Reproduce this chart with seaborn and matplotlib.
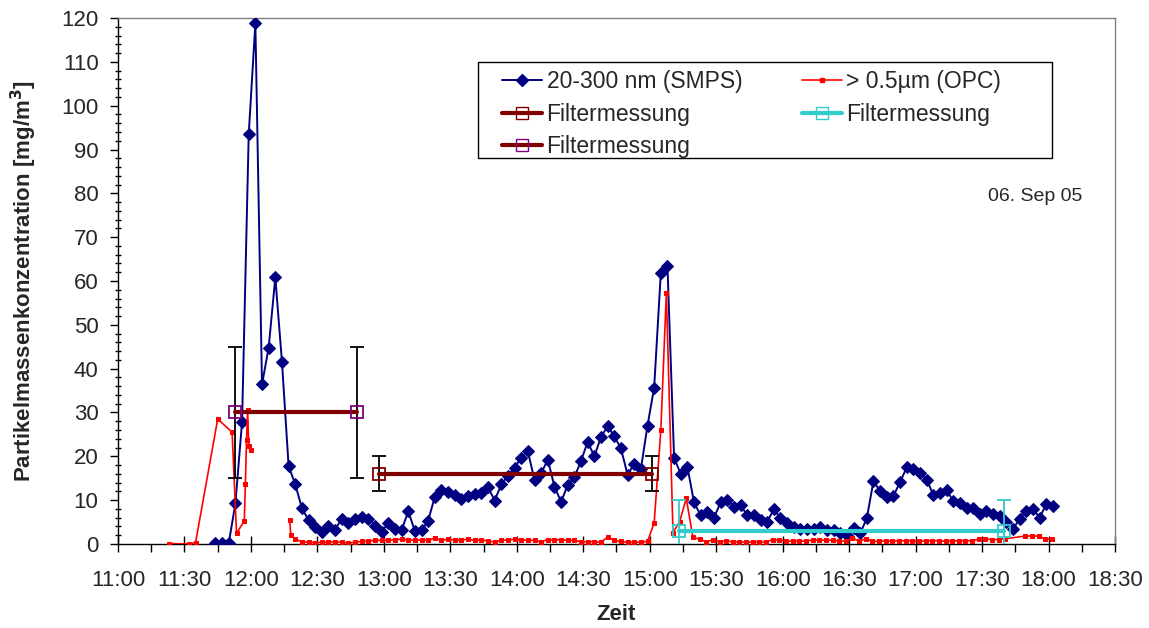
import numpy as np
import pandas as pd
import matplotlib
matplotlib.use("Agg")
import matplotlib.pyplot as plt
import matplotlib.dates as mdates
from matplotlib.lines import Line2D
from matplotlib.patches import Rectangle
from matplotlib.ticker import MultipleLocator
import seaborn as sns

DAY = "2005-09-06"

# --- SMPS, 20-300 nm -------------------------------------------------------
smps_times = [
    "11:44", "11:47", "11:50", "11:53", "11:56", "11:59",
    "12:02", "12:05", "12:08", "12:11", "12:14", "12:17", "12:20", "12:23", "12:26", "12:29",
    "12:32", "12:35", "12:38", "12:41", "12:44", "12:47", "12:50", "12:53", "12:56", "12:59",
    "13:02", "13:05", "13:08", "13:11", "13:14", "13:17", "13:20", "13:23", "13:26", "13:29",
    "13:32", "13:35", "13:38", "13:41", "13:44", "13:47", "13:50", "13:53", "13:56", "13:59",
    "14:02", "14:05", "14:08", "14:11", "14:14", "14:17", "14:20", "14:23", "14:26", "14:29",
    "14:32", "14:35", "14:38", "14:41", "14:44", "14:47", "14:50", "14:53", "14:56", "14:59",
    "15:02", "15:05", "15:08", "15:11", "15:14", "15:17", "15:20", "15:23", "15:26", "15:29",
    "15:32", "15:35", "15:38", "15:41", "15:44", "15:47", "15:50", "15:53", "15:56", "15:59",
    "16:02", "16:05", "16:08", "16:11", "16:14", "16:17", "16:20", "16:23", "16:26", "16:29",
    "16:32", "16:35", "16:38", "16:41", "16:44", "16:47", "16:50", "16:53", "16:56", "16:59",
    "17:02", "17:05", "17:08", "17:11", "17:14", "17:17", "17:20", "17:23", "17:26", "17:29",
    "17:32", "17:35", "17:38", "17:41", "17:44", "17:47", "17:50", "17:53", "17:56", "17:59",
    "18:02",
]
smps_values = [
    0.2, 0.2, 0.2, 9.3, 27.9, 93.5,
    118.8, 36.4, 44.8, 60.8, 41.6, 17.8, 13.6, 8.2, 5.4, 3.9,
    2.8, 4.1, 3.3, 5.8, 4.8, 5.6, 6.2, 5.8, 4.2, 2.8,
    4.7, 3.4, 3.1, 7.5, 2.9, 3.1, 5.3, 10.8, 12.4, 11.8,
    11.1, 10.3, 10.9, 11.5, 11.6, 13.0, 9.9, 13.6, 15.6, 17.4,
    19.7, 21.1, 14.6, 16.2, 19.2, 13.1, 9.6, 13.5, 15.2, 19.0,
    23.3, 20.0, 24.4, 26.9, 24.6, 21.8, 15.8, 18.3, 17.1, 27.0,
    35.7, 61.8, 63.4, 19.6, 16.0, 17.6, 9.5, 6.5, 7.2, 6.0,
    9.5, 10.1, 8.5, 8.9, 6.5, 6.6, 5.5, 5.0, 8.0, 5.9,
    4.7, 3.8, 3.4, 3.4, 3.4, 3.8, 3.1, 3.2, 2.4, 2.1,
    3.6, 2.4, 5.9, 14.4, 12.0, 10.8, 11.0, 14.1, 17.5, 17.0,
    16.2, 14.7, 11.2, 11.6, 12.4, 9.7, 9.3, 8.3, 8.2, 6.9,
    7.6, 6.9, 6.3, 5.1, 3.4, 5.8, 7.6, 8.0, 6.0, 9.1,
    8.7,
]

# --- OPC, > 0.5 um (two recording runs, no data in between) ---------------
opc_times_run1 = [
    "11:23", "11:32", "11:35", "11:45", "11:51:30", "11:53:30",
    "11:57", "11:57:30", "11:58", "11:58:30", "11:59", "12:00",
]
opc_values_run1 = [0.1, 0.0, 0.3, 28.5, 25.5, 2.4, 5.3, 13.7, 23.7, 30.6, 22.4, 21.4]

opc_times_run2 = [
    "12:17:30", "12:18",
    "12:20", "12:23", "12:26", "12:29", "12:32", "12:35", "12:38", "12:41", "12:44", "12:47",
    "12:50", "12:53", "12:56", "12:59",
    "13:02", "13:05", "13:08", "13:11", "13:14", "13:17", "13:20", "13:23", "13:26", "13:29",
    "13:32", "13:35", "13:38", "13:41", "13:44", "13:47", "13:50", "13:53", "13:56", "13:59",
    "14:02", "14:05", "14:08", "14:11", "14:14", "14:17", "14:20", "14:23", "14:26", "14:29",
    "14:32", "14:35", "14:38", "14:41", "14:44", "14:47", "14:50", "14:53", "14:56", "14:59",
    "15:02", "15:05", "15:07:30", "15:10:30", "15:13:30", "15:16:30",
    "15:19:30", "15:22:30", "15:25:30", "15:28:30", "15:31:30", "15:34:30", "15:37:30",
    "15:40:30", "15:43:30", "15:46:30", "15:49:30", "15:52:30", "15:55:30", "15:58:30",
    "16:01:30", "16:04:30", "16:07:30", "16:10:30", "16:13:30", "16:16:30", "16:19:30",
    "16:22:30", "16:25:30", "16:28:30", "16:31:30", "16:34:30", "16:37:30", "16:40:30",
    "16:43:30", "16:46:30", "16:49:30", "16:52:30", "16:55:30", "16:58:30",
    "17:01:30", "17:04:30", "17:07:30", "17:10:30", "17:13:30", "17:16:30", "17:19:30",
    "17:22:30", "17:25:30", "17:28:30", "17:31:30", "17:34:30", "17:37:30", "17:40:30",
    "17:49:30", "17:52:30", "17:55:30", "17:58:30", "18:01:30",
]
opc_values_run2 = [
    5.4, 2.1,
    1.1, 0.5, 0.4, 0.3, 0.4, 0.4, 0.5, 0.4, 0.2, 0.4,
    0.6, 0.6, 0.9, 0.8,
    0.8, 1.0, 1.1, 0.9, 0.9, 0.9, 0.9, 1.3, 0.8, 1.1,
    0.9, 0.9, 1.1, 0.8, 1.0, 0.6, 0.5, 0.8, 0.9, 1.1,
    0.9, 0.9, 0.8, 0.5, 1.0, 0.9, 1.0, 0.8, 0.8, 0.5,
    0.5, 0.5, 0.4, 1.6, 0.8, 0.6, 0.4, 0.4, 0.4, 0.6,
    4.8, 25.9, 57.3, 2.6, 5.1, 10.4,
    1.5, 1.1, 0.5, 0.9, 0.5, 0.7, 0.5,
    0.45, 0.45, 0.45, 0.45, 0.45, 1.0, 0.85,
    0.7, 0.6, 0.6, 0.7, 0.85, 0.9, 0.85,
    0.85, 0.7, 0.6, 1.4, 0.6, 1.2, 0.6,
    0.6, 0.7, 0.6, 0.75, 0.7, 0.75,
    0.6, 0.7, 0.7, 0.75, 0.6, 0.7, 0.7,
    0.7, 0.75, 1.1, 1.15, 1.0, 1.0, 1.2,
    1.8, 1.8, 1.8, 1.1, 1.2,
]

# --- Filter samples (mean over sampling interval, with uncertainty) -------
filter_a_times = ["12:58", "15:01"]
filter_a_values = [16, 16]
filter_a_err = [4, 4]

filter_b_times = ["15:13", "17:40"]
filter_b_values = [3, 3]
filter_b_err = [7, 7]

filter_c_times = ["11:53", "12:48"]
filter_c_values = [30, 30]
filter_c_err = [15, 15]

label_smps = "20-300 nm (SMPS)"
label_opc = "> 0.5µm (OPC)"
label_filter = "Filtermessung"
date_note = "06. Sep 05"


def stamps(times):
    return pd.to_datetime([f"{DAY} {t}" for t in times], format="mixed")


smps = pd.DataFrame({"Zeit": stamps(smps_times), "Wert": smps_values})
opc = pd.concat([
    pd.DataFrame({"Zeit": stamps(opc_times_run1), "Wert": opc_values_run1, "Lauf": 1}),
    pd.DataFrame({"Zeit": stamps(opc_times_run2), "Wert": opc_values_run2, "Lauf": 2}),
], ignore_index=True)

sns.set_style("white")
plt.rcParams["font.family"] = ["Liberation Sans", "DejaVu Sans"]

NAVY = "#000080"
RED = "#FF0000"
MAROON = "#800000"
TEAL = "#33CCCC"
PURPLE = "#800080"
FS = 16

fig = plt.figure(figsize=(11.49, 6.28), dpi=100)
ax = fig.add_axes([0.1027, 0.1338, 0.8677, 0.8375])

sns.lineplot(data=smps, x="Zeit", y="Wert", ax=ax, estimator=None, sort=False,
             color=NAVY, linewidth=1.4, marker="D", markersize=6,
             markerfacecolor=NAVY, markeredgecolor=NAVY, zorder=3)
sns.lineplot(data=opc, x="Zeit", y="Wert", units="Lauf", ax=ax, estimator=None, sort=False,
             color=RED, linewidth=1.2, marker="s", markersize=3.2,
             markerfacecolor=RED, markeredgecolor=RED, zorder=4)


def filter_series(times, values, err, line_color, marker_color, bar_color):
    t = stamps(times)
    ax.errorbar(t, values, yerr=err, fmt="none", ecolor=bar_color,
                elinewidth=1.3, capsize=5, capthick=1.3, zorder=5)
    df = pd.DataFrame({"Zeit": t, "Wert": values})
    sns.lineplot(data=df, x="Zeit", y="Wert", ax=ax, estimator=None, sort=False,
                 color=line_color, linewidth=3, marker="s", markersize=8,
                 markerfacecolor="none", markeredgecolor=marker_color,
                 markeredgewidth=1.3, zorder=6)


filter_series(filter_a_times, filter_a_values, filter_a_err, MAROON, MAROON, "black")
filter_series(filter_b_times, filter_b_values, filter_b_err, TEAL, TEAL, TEAL)
filter_series(filter_c_times, filter_c_values, filter_c_err, MAROON, PURPLE, "black")

# axes
ax.set_xlim(pd.Timestamp(f"{DAY} 11:00"), pd.Timestamp(f"{DAY} 18:30"))
ax.set_ylim(0, 120)
ax.xaxis.set_major_locator(mdates.MinuteLocator(byminute=[0, 30]))
ax.xaxis.set_minor_locator(mdates.MinuteLocator(byminute=[15, 45]))
ax.xaxis.set_major_formatter(mdates.DateFormatter("%H:%M"))
ax.yaxis.set_major_locator(MultipleLocator(10))
ax.yaxis.set_minor_locator(MultipleLocator(2))

ax.tick_params(axis="x", which="major", direction="inout", length=12, width=1,
               color="black", labelsize=FS, pad=13)
ax.tick_params(axis="x", which="minor", direction="out", length=6, width=1,
               color="black")
ax.tick_params(axis="y", which="major", direction="out", length=6, width=1,
               color="black", labelsize=FS, pad=8)
ax.tick_params(axis="y", which="minor", direction="inout", length=5, width=1,
               color="black")
ax.tick_params(bottom=True, left=True, which="both")

for side in ("left", "bottom"):
    ax.spines[side].set_color("black")
    ax.spines[side].set_linewidth(1.0)
for side in ("top", "right"):
    ax.spines[side].set_color("#808080")
    ax.spines[side].set_linewidth(1.0)

ax.set_xlabel("Zeit", fontsize=FS, fontweight="bold", labelpad=9)
ax.set_ylabel("Partikelmassenkonzentration [mg/m$^\\mathbf{3}$]", fontsize=FS,
              fontweight="bold", labelpad=16)

ax.text(0.920, 0.66, date_note, transform=ax.transAxes, ha="center", va="center",
        fontsize=14)

# legend: entries laid out frameless, box drawn around them
def handle(color, marker, mfc, mec, lw, ms):
    return Line2D([], [], color=color, linewidth=lw, marker=marker, markersize=ms,
                  markerfacecolor=mfc, markeredgecolor=mec)


handles = [
    handle(NAVY, "D", NAVY, NAVY, 1.4, 6),
    handle(MAROON, "s", "none", MAROON, 3, 8),
    handle(MAROON, "s", "none", PURPLE, 3, 8),
    handle(RED, "s", RED, RED, 1.2, 3.2),
    handle(TEAL, "s", "none", TEAL, 3, 8),
]
labels = [label_smps, label_filter, label_filter, label_opc, label_filter]
ax.add_patch(Rectangle((0.361, 0.734), 0.576, 0.182, transform=ax.transAxes,
                       facecolor="white", edgecolor="black", linewidth=1.0, zorder=9))
leg = ax.legend(handles, labels, ncol=2, loc="upper left",
                bbox_to_anchor=(0.385, 0.901), fontsize=16.5, frameon=False,
                handlelength=1.75, handletextpad=0.2, columnspacing=2.6,
                labelspacing=0.42, borderpad=0, borderaxespad=0)
leg.set_zorder(10)

fig.savefig("out.png", dpi=100)
